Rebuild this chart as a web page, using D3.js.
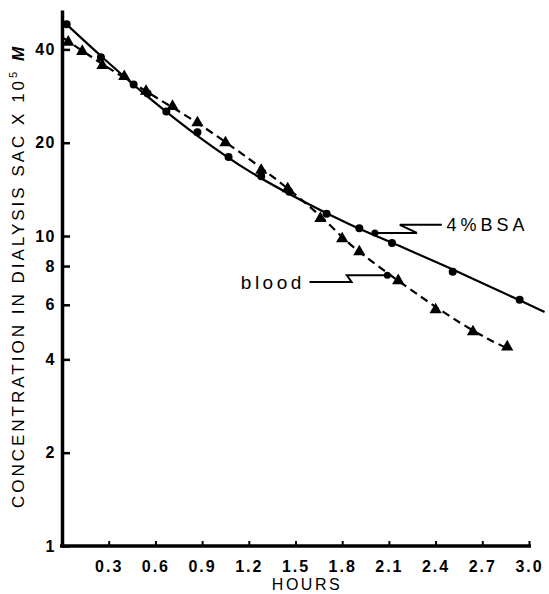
<!DOCTYPE html>
<html>
<head>
<meta charset="utf-8">
<script src="https://cdn.jsdelivr.net/npm/d3@7"></script>
<style>
  body { margin: 0; background: #fff; }
  svg { display: block; }
  .tick text { font-family: "Liberation Sans", Arial, sans-serif; font-weight: bold; fill: #000; }
</style>
</head>
<body>
<script>
// measured points, 4% BSA (circles)
const bsaHours = [0.03, 0.25, 0.46, 0.55, 0.67, 0.87, 1.07, 1.28, 1.46, 1.70, 1.91, 2.12, 2.51, 2.94];
const bsaConc  = [48.2, 37.7, 30.8, 28.8, 25.2, 21.6, 18.0, 15.6, 13.9, 11.8, 10.6, 9.5, 7.67, 6.23];

// measured points, blood (triangles)
const bloodHours = [0.04, 0.13, 0.26, 0.40, 0.54, 0.71, 0.87, 1.05, 1.28, 1.45, 1.66, 1.80, 1.91, 2.16, 2.40, 2.64, 2.86];
const bloodConc  = [42.2, 39.4, 35.5, 32.7, 29.3, 26.2, 23.2, 20.0, 16.3, 14.2, 11.4, 9.8, 8.9, 7.18, 5.78, 4.91, 4.39];

// drawn curves
const bsaCurveHours = [0, 0.25, 0.56, 0.89, 1.21, 1.53, 1.85, 2.17, 2.49, 2.81, 3.10];
const bsaCurveConc  = [49.7, 38.1, 27.9, 20.7, 16.1, 13.1, 10.9, 9.28, 7.88, 6.65, 5.69];
const bloodCurveHours = [0.01, 0.24, 0.56, 0.89, 1.21, 1.46, 1.66, 1.85, 2.04, 2.30, 2.56, 2.75, 2.86];
const bloodCurveConc  = [43.5, 36.4, 28.9, 22.8, 17.6, 14.1, 11.6, 9.42, 7.94, 6.40, 5.24, 4.62, 4.35];

// tick labels
const xTicks = [0.3, 0.6, 0.9, 1.2, 1.5, 1.8, 2.1, 2.4, 2.7, 3.0];
const yTicks = [1, 2, 4, 6, 8, 10, 20, 40];

// label leaders (hours, conc)
const bsaLeader = [[2.44, 10.87], [2.17, 10.87], [2.28, 10.23], [2.01, 10.23]];
const bloodLeader = [[1.59, 7.11], [1.86, 7.11], [1.83, 7.47], [2.09, 7.47]];

const width = 549, height = 594;
const font = '"Liberation Sans", Arial, sans-serif';

const svg = d3.select("body").append("svg")
  .attr("width", width)
  .attr("height", height);

const x = d3.scaleLinear().domain([0, 3.0]).range([62, 529]);
const y = d3.scaleLog().domain([1, 53.6]).range([546, 10]);

function drawAxes() {
  const xAxis = d3.axisBottom(x)
    .tickValues(xTicks)
    .tickFormat(d3.format(".1f"))
    .tickSize(-5)
    .tickSizeOuter(0)
    .tickPadding(15);
  const gx = svg.append("g")
    .attr("transform", "translate(0," + y(1) + ")")
    .call(xAxis);
  gx.select(".domain").attr("stroke-width", 3.5).attr("d", "M" + (x(0) - 2) + ",0H" + (x(3.0) + 2));
  gx.selectAll(".tick line").attr("stroke-width", 2);
  gx.selectAll(".tick text").style("font-size", "16px").style("letter-spacing", "2px");

  const yAxis = d3.axisLeft(y)
    .tickValues(yTicks)
    .tickFormat(d3.format("d"))
    .tickSize(-8)
    .tickSizeOuter(0)
    .tickPadding(6);
  const gy = svg.append("g")
    .attr("transform", "translate(" + x(0) + ",0)")
    .call(yAxis);
  gy.select(".domain").attr("stroke-width", 3.5);
  gy.selectAll(".tick line").attr("stroke-width", 2.5);
  gy.selectAll(".tick text").style("font-size", "16px").style("letter-spacing", "1.5px");

  // axis titles
  svg.append("text")
    .attr("x", 307)
    .attr("y", 590)
    .attr("text-anchor", "middle")
    .style("font-family", font)
    .style("font-size", "16px")
    .style("letter-spacing", "2.5px")
    .text("HOURS");

  const yl = svg.append("text")
    .attr("transform", "translate(24,276) rotate(-90)")
    .attr("text-anchor", "middle")
    .style("font-family", font)
    .style("font-size", "17px")
    .style("letter-spacing", "3px");
  yl.append("tspan").text("CONCENTRATION IN DIALYSIS SAC X 10");
  yl.append("tspan").attr("dy", -7).style("font-size", "11px").text("5");
  yl.append("tspan").attr("dy", 7).text(" ");
  yl.append("tspan").style("font-weight", "bold").style("font-style", "italic").text("M");
}

function drawCurves() {
  const line = d3.line()
    .x(d => x(d[0]))
    .y(d => y(d[1]))
    .curve(d3.curveCatmullRom);

  svg.append("path")
    .datum(d3.zip(bsaCurveHours, bsaCurveConc))
    .attr("d", line)
    .attr("fill", "none")
    .attr("stroke", "#000")
    .attr("stroke-width", 2.2);

  svg.append("path")
    .datum(d3.zip(bloodCurveHours, bloodCurveConc))
    .attr("d", line)
    .attr("fill", "none")
    .attr("stroke", "#000")
    .attr("stroke-width", 2.2)
    .attr("stroke-dasharray", "8,5");
}

function drawPoints() {
  svg.selectAll("circle.bsa")
    .data(d3.zip(bsaHours, bsaConc))
    .enter()
    .append("circle")
    .attr("class", "bsa")
    .attr("cx", d => x(d[0]))
    .attr("cy", d => y(d[1]))
    .attr("r", 4)
    .attr("fill", "#000");

  const tri = d3.symbol().type(d3.symbolTriangle).size(65);
  svg.selectAll("path.blood")
    .data(d3.zip(bloodHours, bloodConc))
    .enter()
    .append("path")
    .attr("class", "blood")
    .attr("d", tri)
    .attr("transform", d => "translate(" + x(d[0]) + "," + y(d[1]) + ")")
    .attr("fill", "#000");
}

function drawLabels() {
  const leader = d3.line().x(d => x(d[0])).y(d => y(d[1]));
  [bsaLeader, bloodLeader].forEach(pts => {
    svg.append("path")
      .attr("d", leader(pts))
      .attr("fill", "none")
      .attr("stroke", "#000")
      .attr("stroke-width", 2);
    const end = pts[pts.length - 1];
    svg.append("circle")
      .attr("cx", x(end[0]))
      .attr("cy", y(end[1]))
      .attr("r", 3.5)
      .attr("fill", "#000");
  });

  svg.append("text")
    .attr("x", x(2.47))
    .attr("y", y(10.87))
    .attr("dy", "0.36em")
    .style("font-family", font)
    .style("font-size", "18px")
    .style("letter-spacing", "4px")
    .text("4%BSA");

  svg.append("text")
    .attr("x", x(1.56))
    .attr("y", y(7.11))
    .attr("dy", "0.36em")
    .attr("text-anchor", "end")
    .style("font-family", font)
    .style("font-size", "19px")
    .style("letter-spacing", "3.5px")
    .text("blood");
}

drawCurves();
drawPoints();
drawAxes();
drawLabels();
</script>
</body>
</html>
